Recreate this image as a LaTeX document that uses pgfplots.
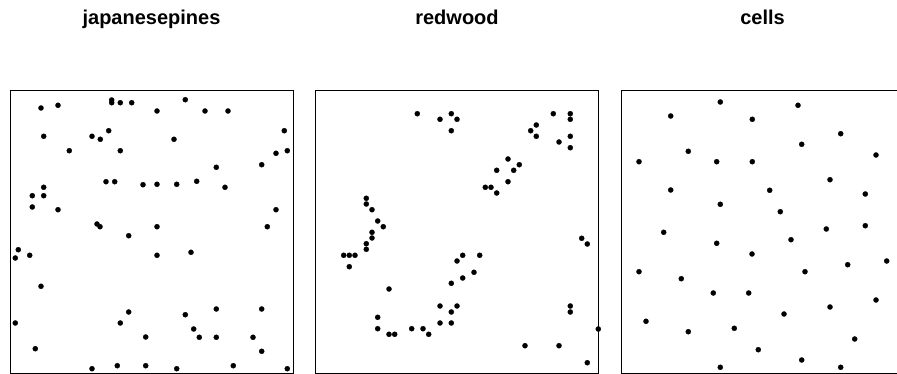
\documentclass[border=0pt]{standalone}
\usepackage{pgfplots}
\pgfplotsset{compat=1.18}
\usepackage{fontspec}
\setmainfont{Liberation Sans}
\begin{document}
\begin{tikzpicture}[x=1pt,y=1pt]
\pgfplotsset{ppp/.style={scale only axis, width=283pt, height=283pt,
  xtick=\empty, ytick=\empty, y dir=reverse, clip=false,
  axis line style={line width=0.8pt, black}, anchor=south west}}
\tikzset{dots/.style={black, only marks, mark=*, mark size=2.6pt, mark options={fill=black, draw=black, line width=0.2pt}}}
% japanesepines
\begin{axis}[ppp, at={(10pt,1pt)}, xmin=10, xmax=293, ymin=90, ymax=373]
\addplot[dots] coordinates {
(41,108) (58,105.3) (111.7,100) (111.7,102.7) (120.3,102.7) (131.7,102.7) (43.7,136.3) (92,136.3) (100.3,139.3) (108.7,130.7) (69.3,150.7) (120.3,150.7) (106,181.7) (114.7,181.7) (143,184.7) (43.7,187.3) (32.3,195.7) (43.7,195.7) (32.3,207) (58,209.7) (97,224) (100,226.7)
(185.3,99.7) (157,111) (205,111) (228,111) (284.3,130.7) (174,139.3) (276,153.3) (287.3,150.7) (261.7,164.7) (216.3,167.3) (157,184.3) (176.7,184.3) (196.7,181.3) (225,187.3) (276,209.7) (157,226.7) (267.3,226.7)
(128.7,235.7) (18.3,249.7) (15.3,258) (29.7,255.3) (41,286.3) (15.3,323) (128.7,312) (120.3,323) (145.7,337) (35.3,348.7) (92,368.7) (117.3,365.7) (145.7,365.7)
(157,255.3) (191,252.3) (216.3,309) (261.7,309) (185.3,314.7) (193.7,329) (199.3,337.3) (216.3,337.3) (253,337.3) (261.7,351.3) (176.7,368.7) (233.3,365.7) (287.3,368.7)
};
\end{axis}
% redwood
\begin{axis}[ppp, at={(315.5pt,1pt)}, xmin=315.5, xmax=598.5, ymin=90, ymax=373]
\addplot[dots] coordinates {
(417.3,113.7) (440,119.3) (451.3,113.7) (451.3,130.7) (366.3,198.3) (366.3,204) (372,209.7) (377.7,221) (383.3,226.7)
(457,119.3) (553.3,113.7) (570.3,113.7) (570.3,119.3) (536.3,125) (530.7,130.7) (536.3,136.3) (559,142) (570.3,136.3) (570.3,147.7) (508,159) (496.7,170.3) (513.7,170.3) (519.3,164.7) (508,181.7) (485.3,187.3) (491,187.3) (496.7,193)
(372,232.3) (372,238) (366.3,243.7) (366.3,249.3) (343.7,255.3) (349.3,255.3) (355,255.3) (349.3,266.7) (389,289) (451.3,283.3) (440,306) (451.3,312) (440,323) (451.3,323) (377.7,317.3) (377.7,328.7) (389,334.3) (394.7,334.3) (411.7,328.7) (423,328.7) (428.7,334.3)
(457,261) (462.7,255.3) (479.7,255.3) (462.7,278) (474,272.3) (457,306) (581.7,238.3) (587.3,244) (570.3,306) (570.3,312) (598.3,329) (525,345.7) (559,345.7) (587.3,362.7)
};
\end{axis}
% cells
\begin{axis}[ppp, at={(621pt,1pt)}, xmin=621, xmax=904, ymin=90, ymax=373]
\addplot[dots] coordinates {
(720.3,102) (670.7,116) (752.3,119.3) (688.3,151.3) (639,161.7) (716.7,161.7) (752.3,161.7) (670.7,190) (720.3,204.3)
(798,105.3) (840.7,133.7) (801.7,144.3) (876,155) (830,179.7) (769.7,190.3) (865.3,194) (780.3,211.7) (826.3,229) (865.3,225.7)
(663.7,232.3) (716.7,243.3) (752,254) (639,271.7) (681.3,278.7) (713.3,293) (748.7,293) (646,321.3) (688.3,331.7) (734.3,328.3) (758.3,349.7) (720.3,367.3)
(791,239.7) (805,271.7) (847.7,264.7) (886.7,261) (830,307) (784,314) (876,300) (854.7,339) (801.7,360) (840.7,367.3)
};
\end{axis}
\node[anchor=base, font=\bfseries\fontsize{20}{23}\selectfont] at (151.5pt,349pt) {japanesepines};
\node[anchor=base, font=\bfseries\fontsize{20}{23}\selectfont] at (457pt,349pt) {redwood};
\node[anchor=base, font=\bfseries\fontsize{20}{23}\selectfont] at (762.5pt,349pt) {cells};
\pgfresetboundingbox
\useasboundingbox (0,0) rectangle (897pt,374pt);
\end{tikzpicture}
\end{document}
